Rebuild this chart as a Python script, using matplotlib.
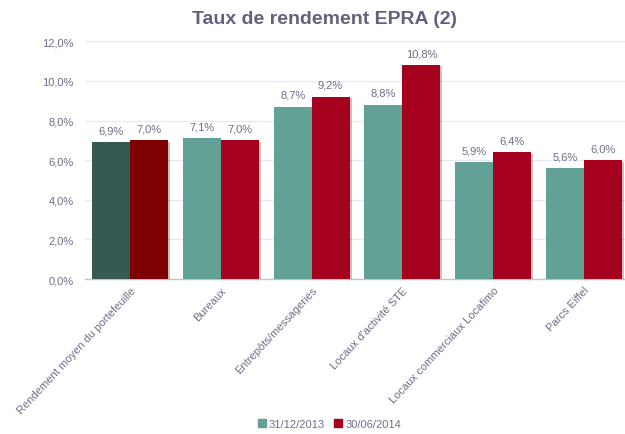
import matplotlib
matplotlib.use("Agg")
import matplotlib.pyplot as plt
import matplotlib.patheffects as pe
from matplotlib.patches import Patch
import numpy as np

categories = ["Rendement moyen du portefeuille", "Bureaux", "Entrepôts/messageries",
              "Locaux d'activité STE", "Locaux commerciaux Locafimo", "Parcs Eiffel"]
series_names = ["31/12/2013", "30/06/2014"]
values_2013 = [6.9, 7.1, 8.7, 8.8, 5.9, 5.6]
values_2014 = [7.0, 7.0, 9.2, 10.8, 6.4, 6.0]
yticks = [0, 2, 4, 6, 8, 10, 12]

teal = "#62A196"
red = "#A6001F"
teal_dark = "#365A53"
red_dark = "#7F0000"
txt = "#6E6E8A"

plt.rcParams['font.family'] = ['Liberation Sans', 'DejaVu Sans']

fig = plt.figure(figsize=(6.25, 4.35), dpi=100)
ax = fig.add_axes([0.1354, 0.356, 0.8716, 0.547])

x = np.arange(len(categories))
w = 0.418
c13 = [teal_dark] + [teal] * (len(categories) - 1)
c14 = [red_dark] + [red] * (len(categories) - 1)
shadow = [pe.SimplePatchShadow(offset=(1.5, -1.0), alpha=0.25), pe.Normal()]
b1 = ax.bar(x - w / 2, values_2013, w, color=c13, zorder=3, path_effects=shadow)
b2 = ax.bar(x + w / 2, values_2014, w, color=c14, zorder=3, path_effects=shadow)

for bars, vals in ((b1, values_2013), (b2, values_2014)):
    for b, v in zip(bars, vals):
        ax.annotate(f"{v:.1f}%".replace(".", ","), (b.get_x() + b.get_width() / 2, v),
                    xytext=(0, 5), textcoords="offset points", ha="center", va="bottom",
                    fontsize=8, color=txt)

ax.set_xlim(-0.5, 5.5)
ax.set_ylim(0, 12)
ax.set_yticks(yticks)
ax.set_yticklabels([f"{t:.1f}%".replace(".", ",") for t in yticks], fontsize=8, color=txt)
ax.yaxis.grid(True, color="#E3E8F2", linewidth=0.9, zorder=0)
ax.set_axisbelow(True)
ax.tick_params(axis="y", length=0, pad=8)
ax.tick_params(axis="x", length=0, pad=4)
for s in ["top", "right", "left"]:
    ax.spines[s].set_visible(False)
ax.spines["bottom"].set_color("#BFC4CC")
ax.spines["bottom"].set_linewidth(1.0)

ax.set_xticks(x)
ax.set_xticklabels(categories, rotation=47, ha="right", rotation_mode="anchor",
                   fontsize=8, color=txt)

fig.text(0.52, 0.955, "Taux de rendement EPRA (2)", ha="center", va="center",
         fontsize=14, fontweight="bold", color="#62627E")

handles = [Patch(color=teal, label=series_names[0]), Patch(color=red, label=series_names[1])]
fig.legend(handles=handles, loc="center", bbox_to_anchor=(0.527, 0.023), ncol=2,
           frameon=False, fontsize=8, labelcolor=txt, handlelength=0.7, handleheight=0.7,
           handletextpad=0.3, columnspacing=0.8)

fig.savefig("out.png", dpi=100)
